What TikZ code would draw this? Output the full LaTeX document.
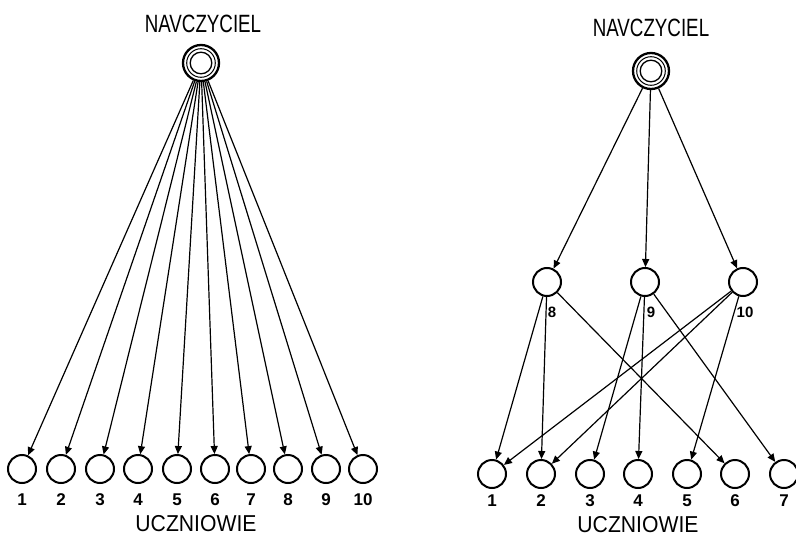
\documentclass[tikz,border=0pt]{standalone}
\usepackage{fontspec}
\setmainfont{Liberation Sans}
\usetikzlibrary{arrows.meta}
\begin{document}
\begin{tikzpicture}[x=1pt,y=-1pt,
  teacher/.style={circle,draw,line width=2.3pt,minimum size=36pt,inner sep=0pt,
    path picture={
      \draw[line width=1pt] (path picture bounding box.center) circle (14.3pt);
      \draw[line width=1.3pt] (path picture bounding box.center) circle (10.8pt);}},
  pupil/.style={circle,draw,line width=2pt,minimum size=28pt,inner sep=0pt},
  conn/.style={line width=1.2pt,-{Triangle[length=8pt,width=7pt]}},
  title/.style={font=\fontsize{25}{25}\selectfont,inner sep=0pt},
  bottomtitle/.style={font=\fontsize{23}{23}\selectfont,inner sep=0pt},
  num/.style={font=\bfseries\fontsize{17}{17}\selectfont,inner sep=0pt},
  smallnum/.style={font=\bfseries\fontsize{15}{15}\selectfont,inner sep=0pt}
]
\useasboundingbox[fill=white] (0,0) rectangle (796,538);

% ---------- left diagram ----------
\node[title,xscale=0.75] (tl) at (203,24) {NAVCZYCIEL};
\node[teacher] (T) at (201,63) {};
\foreach \i/\x in {1/22,2/61,3/100,4/138,5/177,6/215,7/251,8/288,9/326,10/363}{
  \node[pupil] (s\i) at (\x,469) {};
  \node[num] (n\i) at (\x,500) {\i};
  \draw[conn] (T) -- (s\i);
}
\node[bottomtitle,xscale=0.92] (ul) at (196,524) {UCZNIOWIE};

% ---------- right diagram ----------
\node[title,xscale=0.75] (tr) at (651,28) {NAVCZYCIEL};
\node[teacher] (R) at (651,71) {};
\node[pupil] (m8) at (547,282) {};
\node[pupil] (m9) at (645,282) {};
\node[pupil] (m10) at (743,282) {};
\node[smallnum] (l8) at (552,312) {8};
\node[smallnum] (l9) at (651,312) {9};
\node[smallnum] (l10) at (745,312) {10};
\foreach \i/\x in {1/492,2/541,3/590,4/638,5/687,6/735,7/784}{
  \node[pupil] (r\i) at (\x,474) {};
  \node[num] (rn\i) at (\x,501) {\i};
}
\node[bottomtitle,xscale=0.92] (ur) at (638,525) {UCZNIOWIE};
\draw[conn] (R) -- (m8);
\draw[conn] (R) -- (m9);
\draw[conn] (R) -- (m10);
\draw[conn] (m8) -- (r1);
\draw[conn] (m8) -- (r2);
\draw[conn] (m8) -- (r6);
\draw[conn] (m9) -- (r3);
\draw[conn] (m9) -- (r4);
\draw[conn] (m9) -- (r7);
\draw[conn] (m10) -- (r1);
\draw[conn] (m10) -- (r2);
\draw[conn] (m10) -- (r5);
\end{tikzpicture}
\end{document}
